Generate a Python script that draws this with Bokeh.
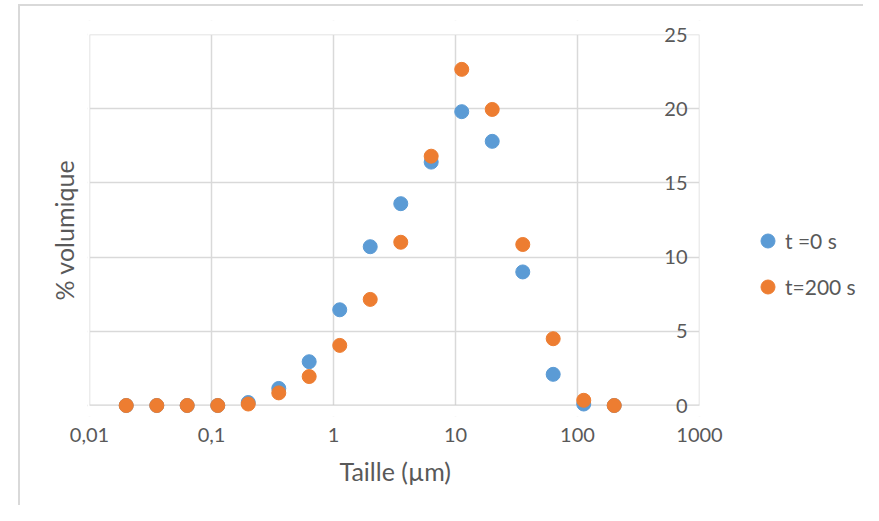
from bokeh.plotting import figure
from bokeh.models import (Range1d, FixedTicker, CustomJSTickFormatter, Legend, LegendItem,
                          BoxAnnotation, Span, Title)
from bokeh.core.properties import value
from bokeh.embed import file_html
from bokeh.resources import INLINE

# ---- data ----
sizes = [0.02, 0.0356, 0.0632, 0.1125, 0.2, 0.356, 0.632, 1.125, 2.0, 3.56,
         6.32, 11.25, 20.0, 35.6, 63.2, 112.5, 200.0]
vol_t0 = [0, 0, 0, 0, 0.2, 1.15, 2.95, 6.45, 10.7, 13.6, 16.4, 19.8, 17.8, 9.0, 2.1, 0.1, 0]
vol_t200 = [0, 0, 0, 0, 0.1, 0.85, 1.95, 4.05, 7.15, 11.0, 16.8, 22.65, 19.95, 10.85, 4.5, 0.35, 0]
x_ticks = [0.01, 0.1, 1, 10, 100, 1000]
y_ticks = [0, 5, 10, 15, 20, 25]
y_tick_labels = [str(v) for v in y_ticks]
series_names = ["t =0 s", "t=200 s"]
x_title = "Taille (µm)"
y_title = "% volumique"

FONT = "Lato"
GREY_TXT = "#595959"
GRID = "#d9d9d9"
AXIS = "#bfbfbf"
BLUE = "#5B9BD5"
ORANGE = "#ED7D31"

# ---- layout (pixels) ----
W, H = 863, 505
PLOT_L, PLOT_R, PLOT_T, PLOT_B = 89, 699, 34, 405      # visible plot box
FRAME_L, FRAME_T, FRAME_B = 87, 20, 416                # bokeh frame (a bit larger)
DEC_PX = (PLOT_R - PLOT_L) / 5.0
Y_PX = (PLOT_B - PLOT_T) / 25.0

x_lo = 10 ** (-2 - (PLOT_L - FRAME_L) / DEC_PX)
x_hi = 10 ** (3 + (W - PLOT_R) / DEC_PX)
y_lo = -(FRAME_B - PLOT_B) / Y_PX
y_hi = 25 + (PLOT_T - FRAME_T) / Y_PX

p = figure(width=W, height=H, x_axis_type="log", y_axis_location=None,
           x_range=Range1d(x_lo, x_hi), y_range=Range1d(y_lo, y_hi),
           output_backend="svg", toolbar_location=None,
           min_border_left=FRAME_L, min_border_right=0, min_border_top=FRAME_T,
           min_border_bottom=H - FRAME_B)
p.background_fill_color = "white"
p.border_fill_alpha = 0
p.outline_line_color = None
# chart-area border (light grey lines at left and top), shown through the transparent border
p.styles = {
    "background-color": "white",
    "background-image": "linear-gradient(#d9d9d9, #d9d9d9), linear-gradient(#d9d9d9, #d9d9d9)",
    "background-size": "2px 100%, 100% 2px",
    "background-position": "18px 4px, 18px 4px",
    "background-repeat": "no-repeat",
}

# x axis (tick labels only; the axis line is a span at 0)
xa = p.xaxis[0]
xa.ticker = FixedTicker(ticks=x_ticks)
xa.formatter = CustomJSTickFormatter(code="return tick.toString().replace('.', ',');")
xa.axis_line_color = None
xa.major_tick_line_color = None
xa.minor_tick_line_color = None
xa.major_label_text_font = FONT
xa.major_label_text_font_size = "20px"
xa.major_label_text_color = GREY_TXT
xa.major_label_standoff = 5

# axis titles, placed along the visible plot box
p.add_layout(Title(text=x_title, align="left", offset=252, standoff=18,
                   text_font=FONT, text_font_size="25px", text_font_style="normal",
                   text_color=GREY_TXT), "below")
p.add_layout(Title(text=y_title, align="left", offset=116, standoff=18,
                   text_font=FONT, text_font_size="25px", text_font_style="normal",
                   text_color=GREY_TXT), "left")

# grids
p.xgrid.ticker = FixedTicker(ticks=x_ticks)
p.ygrid.ticker = FixedTicker(ticks=y_ticks)
p.xgrid.grid_line_color = GRID
p.ygrid.grid_line_color = GRID
p.xgrid.grid_line_width = 1.5
p.ygrid.grid_line_width = 1.5
p.add_layout(Span(location=y_ticks[0], dimension="width", line_color=AXIS,
                  line_width=1.5, level="underlay"))

# white masks outside the plot box (hide grid overshoot)
p.add_layout(BoxAnnotation(left=x_ticks[-1], fill_color="white", fill_alpha=1,
                           line_color=None, level="underlay"))
p.add_layout(BoxAnnotation(bottom=y_ticks[-1], fill_color="white", fill_alpha=1,
                           line_color=None, level="underlay"))
p.add_layout(BoxAnnotation(top=y_ticks[0], fill_color="white", fill_alpha=1,
                           line_color=None, level="underlay"))
p.add_layout(BoxAnnotation(right=x_ticks[0], fill_color="white", fill_alpha=1,
                           line_color=None, level="underlay"))

# y tick labels just inside the right edge
p.text(x=[x_ticks[-1]] * len(y_ticks), y=y_ticks, text=y_tick_labels,
       x_offset=-12, text_align="right", text_baseline="middle",
       text_font=value(FONT), text_font_size="20px", text_color=GREY_TXT)

r0 = p.scatter(sizes, vol_t0, size=14, color=BLUE, line_color=BLUE)
r1 = p.scatter(sizes, vol_t200, size=14, color=ORANGE, line_color=ORANGE)

legend = Legend(items=[LegendItem(label=series_names[0], renderers=[r0]),
                       LegendItem(label=series_names[1], renderers=[r1])],
                location=(663, 112), border_line_color=None, background_fill_alpha=0,
                label_text_font=FONT, label_text_font_size="21px", label_text_color=GREY_TXT,
                glyph_width=35, glyph_height=35, label_standoff=0, spacing=11, padding=10)
p.add_layout(legend, "center")

open("out.html", "w").write(file_html(p, INLINE))
